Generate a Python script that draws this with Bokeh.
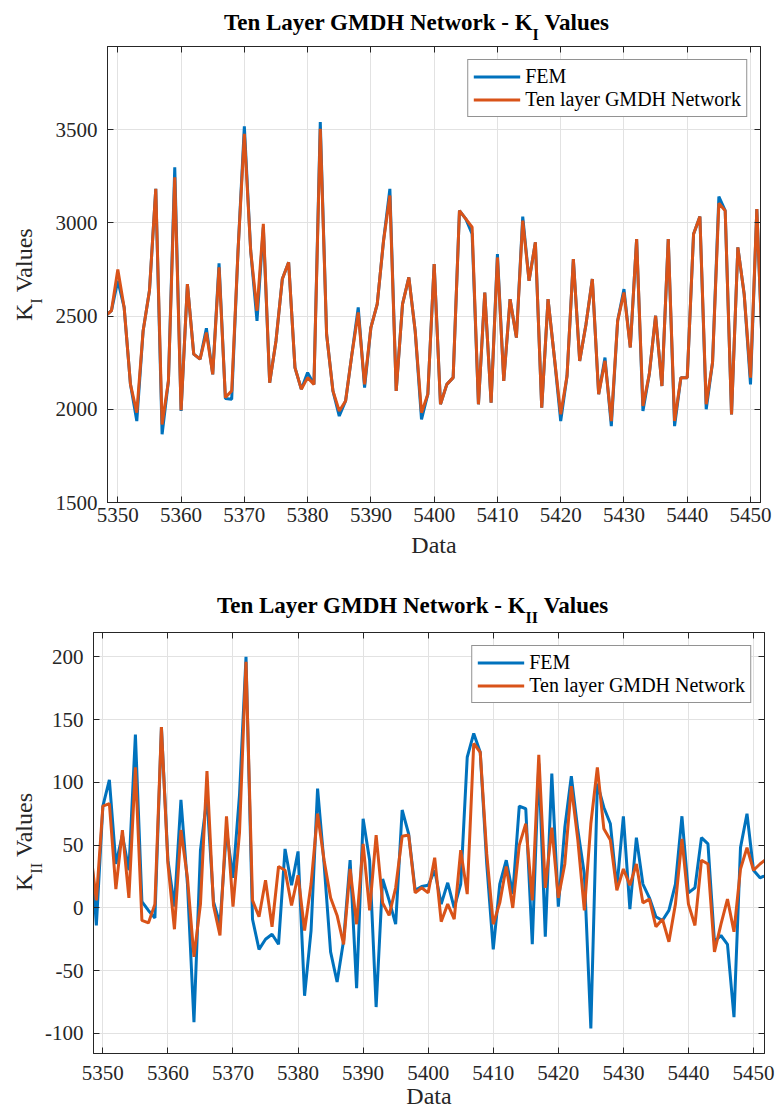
import numpy as np
from bokeh.plotting import figure
from bokeh.layouts import column, row
from bokeh.models import Range1d, LinearAxis, FixedTicker, Legend, LegendItem, Div
from bokeh.embed import file_html
from bokeh.resources import INLINE

# ---------------- data ----------------
data_index = list(range(5348, 5453))

ki_fem = [2500, 2530, 2690, 2547, 2134, 1937, 2421, 2636, 3183, 1866,
          2152, 3299, 1991, 2672, 2296, 2269, 2435, 2188, 2783, 2058,
          2054, 2850, 3518, 2851, 2475, 2977, 2143, 2367, 2699, 2789,
          2224, 2108, 2197, 2134, 3541, 2403, 2099, 1964, 2045, 2296,
          2547, 2116, 2439, 2565, 2905, 3183, 2099, 2565, 2708, 2421,
          1946, 2081, 2780, 2027, 2134, 2170, 3066, 3022, 2941, 2027,
          2627, 2036, 2833, 2152, 2591, 2385, 3034, 2690, 2896, 2009,
          2591, 2278, 1937, 2179, 2806, 2260, 2457, 2699, 2081, 2278,
          1910, 2475, 2645, 2332, 2914, 1991, 2188, 2502, 2125, 2914,
          1910, 2170, 2170, 2941, 3034, 2000, 2251, 3142, 3066, 1973,
          2869, 2618, 2134, 3075, 2200]

ki_gmdh = [2500, 2530, 2750, 2547, 2134, 1982, 2421, 2636, 3183, 1919,
           2152, 3245, 1995, 2672, 2296, 2269, 2412, 2188, 2762, 2063,
           2099, 2850, 3478, 2851, 2529, 2995, 2143, 2367, 2699, 2789,
           2224, 2108, 2170, 2134, 3505, 2403, 2099, 1991, 2045, 2296,
           2520, 2134, 2439, 2565, 2905, 3147, 2099, 2565, 2708, 2421,
           1982, 2081, 2780, 2027, 2134, 2170, 3066, 3022, 2977, 2027,
           2627, 2036, 2815, 2152, 2591, 2385, 3013, 2690, 2896, 2009,
           2591, 2278, 1973, 2179, 2806, 2260, 2457, 2699, 2081, 2260,
           1937, 2475, 2627, 2332, 2914, 2018, 2188, 2502, 2125, 2914,
           1937, 2170, 2170, 2941, 3034, 2027, 2251, 3106, 3066, 1973,
           2869, 2618, 2170, 3075, 2200]

kii_fem = [60, -14, 81, 102, 35, 58, 30, 138, 5, -2,
           -8, 144, 38, 1, 86, 19, -91, 46, 88, 5,
           -13, 62, 24, 90, 200, -9, -33, -25, -21, -29,
           47, 18, 45, -70, -18, 95, 35, -35, -59, -26,
           38, -64, 71, 38, -79, 23, 6, -13, 78, 59,
           14, 17, 18, 30, 3, 20, 0, 19, 120, 139,
           124, 35, -33, 19, 38, 11, 81, 79, -29, 115,
           -23, 107, 1, 64, 105, 62, 27, -96, 99, 80,
           67, 16, 73, -1, 56, 19, 8, -7, -10, -2,
           19, 73, 12, 16, 56, 51, -27, -22, -29, -87,
           48, 75, 30, 24, 26]

kii_gmdh = [50, 6, 81, 83, 15, 62, 8, 112, -10, -12,
            3, 144, 35, -17, 62, 24, -39, 3, 109, 2,
            -22, 73, 1, 60, 196, 6, -7, 22, -15, 33,
            30, 2, 26, -18, 19, 75, 38, 8, -6, -29,
            31, -13, 51, -2, 58, 4, -6, 16, 57, 58,
            12, 16, 12, 40, -11, 3, -9, 46, 11, 131,
            124, 43, -13, 4, 33, 0, 50, 67, 6, 122,
            16, 64, 8, 35, 97, 54, -2, 67, 112, 63,
            54, 14, 31, 18, 35, 4, 7, -15, -9, -27,
            3, 55, 3, -14, 38, 35, -35, -13, 7, -19,
            31, 48, 30, 35, 39]

x_ticks = list(range(5350, 5451, 10))
ki_ticks = [1500, 2000, 2500, 3000, 3500]
kii_ticks = [-100, -50, 0, 50, 100, 150, 200]

series_names = ["FEM", "Ten layer GMDH Network"]
title_main = "Ten Layer GMDH Network - K"
title_end = "Values"
subs = ["I", "II"]
x_label = "Data"

# ---------------- style ----------------
SERIF = "Liberation Serif"
AX = "#262626"
GRID = "#e2e2e2"
BLUE = "#0072BD"
ORANGE = "#D95319"
TICK_FS = "21px"


def style_axis(ax, ticks, show, standoff):
    ax.ticker = FixedTicker(ticks=ticks)
    ax.axis_line_color = AX
    ax.axis_line_width = 1
    ax.major_tick_line_color = AX
    ax.major_tick_in = 6
    ax.major_tick_out = 0
    ax.minor_tick_line_color = None
    ax.major_label_text_font = SERIF
    ax.major_label_text_color = AX
    if show:
        ax.major_label_text_font_size = TICK_FS
        ax.major_label_standoff = standoff
        ax.major_label_overrides = {t: str(t) for t in ticks}  # plain hyphen minus
    else:
        ax.major_label_text_font_size = "0px"
        ax.major_label_standoff = 0
        ax.major_label_overrides = {t: "" for t in ticks}


def make_fig(w, h, bl, br, bt, bb, xr, yr, yticks, fem, gmdh, xstand, lab_stand):
    p = figure(width=w, height=h, x_range=Range1d(*xr), y_range=Range1d(*yr),
               output_backend="svg", toolbar_location=None,
               min_border_left=bl, min_border_right=br,
               min_border_top=bt, min_border_bottom=bb,
               background_fill_color="white", border_fill_color="white")
    p.outline_line_color = AX
    p.outline_line_width = 1
    xa = p.below[0]
    ya = p.left[0]
    style_axis(xa, x_ticks, True, xstand)
    style_axis(ya, yticks, True, 10)
    xa.axis_label = x_label
    xa.axis_label_text_font = SERIF
    xa.axis_label_text_font_size = "24px"
    xa.axis_label_text_font_style = "normal"
    xa.axis_label_text_color = AX
    xa.axis_label_standoff = lab_stand

    top_ax = LinearAxis()
    right_ax = LinearAxis()
    p.add_layout(top_ax, "above")
    p.add_layout(right_ax, "right")
    style_axis(top_ax, x_ticks, False, 0)
    style_axis(right_ax, yticks, False, 0)
    p.xgrid.ticker = FixedTicker(ticks=x_ticks)
    p.ygrid.ticker = FixedTicker(ticks=yticks)
    p.grid.grid_line_color = GRID
    p.grid.grid_line_width = 1

    r1 = p.line(data_index, fem, line_color=BLUE, line_width=3)
    r2 = p.line(data_index, gmdh, line_color=ORANGE, line_width=3)

    legend = Legend(items=[LegendItem(label=series_names[0], renderers=[r1]),
                           LegendItem(label=series_names[1], renderers=[r2])],
                    location="top_right", margin=13, padding=5, spacing=0,
                    label_height=21, glyph_height=21, glyph_width=47,
                    label_standoff=5, label_text_font=SERIF,
                    label_text_font_size="20px", label_text_color="#000000",
                    border_line_color=AX, border_line_width=1,
                    background_fill_color="white", background_fill_alpha=1)
    p.add_layout(legend)
    return p


def title_div(h, left, top, sub):
    html = (
        f'<div style="position:relative;width:782px;height:{h}px;">'
        f'<div style="position:absolute;left:{left}px;top:{top}px;white-space:nowrap;'
        f'font-family:\'{SERIF}\';font-weight:bold;font-size:23px;line-height:1;color:#000;">'
        f'{title_main}<span style="font-size:16px;position:relative;top:10px;">{sub}</span>'
        f'&nbsp;{title_end}</div></div>'
    )
    return Div(text=html, width=782, height=h, margin=0)


def ylabel_div(w, h, left, top, sub):
    html = (
        f'<div style="position:relative;width:{w}px;height:{h}px;">'
        f'<div style="position:absolute;left:{left}px;top:{top}px;white-space:nowrap;'
        f'transform-origin:0 0;transform:rotate(-90deg);'
        f'font-family:\'{SERIF}\';font-size:24px;line-height:1;color:{AX};">'
        f'K<span style="font-size:16px;position:relative;top:10px;">{sub}</span>'
        f'&nbsp;Values</div></div>'
    )
    return Div(text=html, width=w, height=h, margin=0)


# top panel: page y 0..575, frame x 107..760, y 46..502
T1, L1 = 42, 50
p1 = make_fig(782 - L1, 575 - T1, 107 - L1, 22, 46 - T1, 73,
              (5348.37, 5451.58), (1500, 3947), ki_ticks, ki_fem, ki_gmdh, 5, 7)
t1 = title_div(T1, 224, 11, subs[0])
y1 = ylabel_div(L1, 575 - T1, 12, 321 - T1, subs[0])

# bottom panel: page y 575..1115, frame x 92..764, y 632..1053
T2, L2 = 53, 42
p2 = make_fig(782 - L2, 540 - T2, 92 - L2, 18, 632 - 575 - T2, 62,
              (5348.56, 5451.69), (-116, 219.4), kii_ticks, kii_fem, kii_gmdh, 12, 0)
t2 = title_div(T2, 217, 19, subs[1])
y2 = ylabel_div(L2, 540 - T2, 12, 891 - 575 - T2, subs[1])

layout = column(t1, row(y1, p1, spacing=0), t2, row(y2, p2, spacing=0), spacing=0)
open("out.html", "w").write(file_html(layout, INLINE))
